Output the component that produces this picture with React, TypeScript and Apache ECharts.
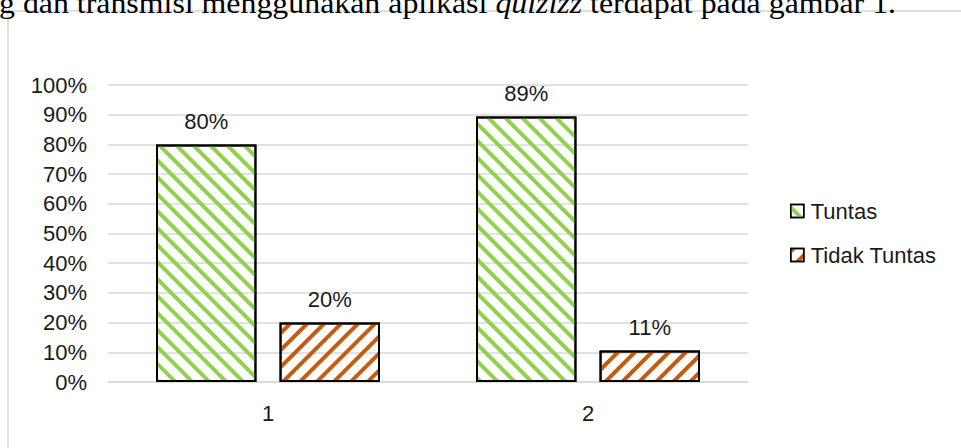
import React, { useEffect, useRef } from "react";
import * as echarts from "echarts";

const categories = ["1", "2"];
const seriesNames = ["Tuntas", "Tidak Tuntas"];
const tuntasValues = [0.8, 0.894];
const tidakTuntasValues = [0.2, 0.106];
const captionBefore = "g dan transmisi menggunakan aplikasi ";
const captionItalic = "quizizz";
const captionAfter = " terdapat pada gambar 1.";

const SANS = "'Liberation Sans', Arial, sans-serif";
const SERIF = "'Liberation Serif', 'Times New Roman', serif";
const TEXT = "#1a1a1a";
const GRID = "#d9d9d9";

const pct = (v: number) => Math.round(v * 100) + "%";

export default function App() {
  const ref = useRef<HTMLDivElement>(null);
  useEffect(() => {
    if (!ref.current) return;
    const chart = echarts.init(ref.current, null, { renderer: "svg" });
    const makeBar = (name: string, data: number[], color: string, rot: number) => ({
      name,
      type: "bar",
      data,
      barGap: "23%",
      barCategoryGap: "30%",
      itemStyle: {
        color: "rgba(255,255,255,0)",
        borderColor: "#000",
        borderWidth: 2,
        decal: {
          symbol: "rect",
          symbolSize: 1,
          color,
          dashArrayX: [1, 0],
          dashArrayY: [4, 8],
          rotation: rot,
        },
      },
      label: {
        show: true,
        position: "top",
        distance: 12,
        formatter: (p: any) => pct(p.value),
        fontFamily: SANS,
        fontSize: 22,
        color: TEXT,
      },
    });
    chart.setOption({
      animation: false,
      backgroundColor: "#fff",
      grid: { left: 108, right: 213, top: 85, bottom: 66, containLabel: false },
      legend: {
        orient: "vertical",
        left: 785,
        top: 195,
        itemWidth: 13,
        itemHeight: 13,
        itemGap: 22,
        icon: "rect",
        itemStyle: { borderWidth: 1.5, borderColor: "#000" },
        textStyle: { fontFamily: SANS, fontSize: 22, color: TEXT, padding: [0, 0, 0, 2] },
        data: seriesNames,
      },
      xAxis: {
        type: "category",
        data: categories,
        axisLine: { show: true, lineStyle: { color: GRID, width: 1.5 } },
        axisTick: { show: false },
        axisLabel: { fontFamily: SANS, fontSize: 22, color: TEXT, margin: 20 },
      },
      yAxis: {
        type: "value",
        min: 0,
        max: 1,
        interval: 0.1,
        axisLine: { show: false },
        axisTick: { show: false },
        splitLine: { lineStyle: { color: GRID, width: 1.5 } },
        axisLabel: {
          fontFamily: SANS,
          fontSize: 22,
          color: TEXT,
          margin: 21,
          formatter: (v: number) => pct(v),
        },
      },
      graphic: [
        {
          type: "line",
          shape: { x1: 8, y1: 11, x2: 961, y2: 11 },
          style: { stroke: "#d4d4d4", lineWidth: 1.5 },
          z: 0,
        },
        {
          type: "line",
          shape: { x1: 8, y1: 11, x2: 8, y2: 448 },
          style: { stroke: "#d4d4d4", lineWidth: 1.5 },
          z: 0,
        },
        {
          type: "text",
          x: -1,
          y: 3,
          scaleX: 1.062,
          z: 5,
          style: {
            text: `{n|${captionBefore}}{i|${captionItalic}}{n|${captionAfter}}`,
            verticalAlign: "middle",
            fill: "#000",
            font: `30px ${SERIF}`,
            rich: {
              n: { fontFamily: SERIF, fontSize: 30, fill: "#000" },
              i: { fontFamily: SERIF, fontSize: 30, fontStyle: "italic", fill: "#000" },
            },
          },
        },
      ],
      series: [
        makeBar(seriesNames[0], tuntasValues, "#92d050", Math.PI / 4),
        makeBar(seriesNames[1], tidakTuntasValues, "#c55a11", -Math.PI / 4),
      ],
    });
    return () => chart.dispose();
  }, []);
  return (
    <div
      ref={ref}
      style={{ position: "absolute", left: 0, top: 0, width: 961, height: 448 }}
    />
  );
}
